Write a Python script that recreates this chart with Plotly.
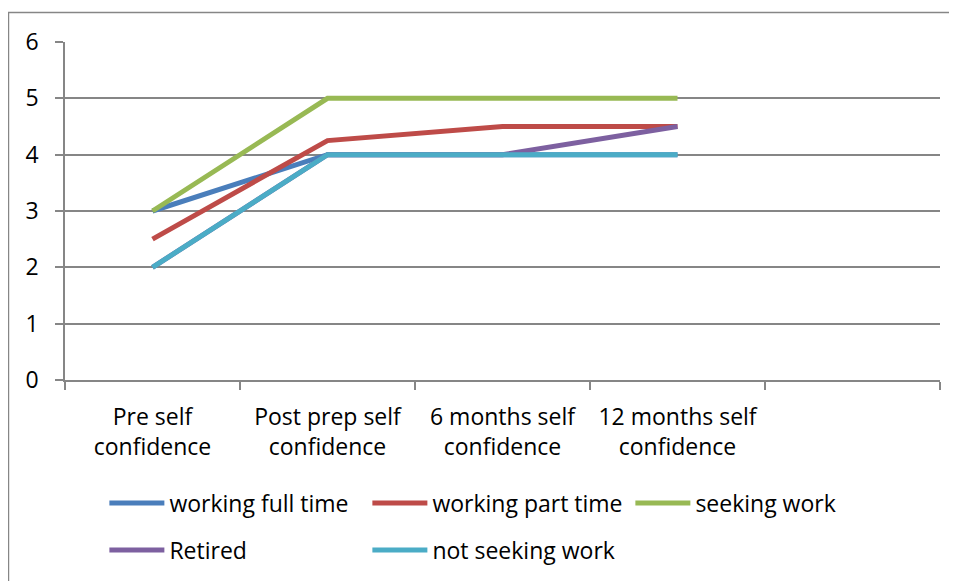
import plotly.graph_objects as go

# categories (5th slot is empty in the original chart)
categories = ["Pre self<br>confidence", "Post prep self<br>confidence",
              "6 months self<br>confidence", "12 months self<br>confidence", " "]

full_time = [3, 4, 4, 4]
part_time = [2.5, 4.25, 4.5, 4.5]
seeking = [3, 5, 5, 5]
retired = [2, 4, 4, 4.5]
not_seeking = [2, 4, 4, 4]

series = [
    ("working full time", full_time, "#4A7EBB", "legend"),
    ("working part time", part_time, "#BE4B48", "legend"),
    ("seeking work", seeking, "#98B954", "legend"),
    ("Retired", retired, "#7D60A0", "legend2"),
    ("not seeking work", not_seeking, "#4BACC6", "legend2"),
]

FONT = "Open Sans"
GRID = "#868686"

fig = go.Figure()
for name, vals, color, leg in series:
    fig.add_trace(go.Scatter(
        x=categories[:len(vals)], y=vals, name=name, mode="lines",
        line=dict(color=color, width=5), legend=leg
    ))

legend_style = dict(
    orientation="h", xanchor="left", yanchor="middle",
    font=dict(family=FONT, size=23, color="black"),
    itemwidth=55, entrywidth=193, entrywidthmode="pixels",
    bgcolor="rgba(0,0,0,0)", tracegroupgap=0
)

fig.update_layout(
    width=957, height=581,
    margin=dict(l=57, r=25, t=34, b=209),
    paper_bgcolor="white", plot_bgcolor="white",
    font=dict(family=FONT, size=23, color="black"),
    showlegend=True,
    legend=dict(x=0.045, y=-0.364, **legend_style),
    legend2=dict(x=0.045, y=-0.503, **legend_style),
    xaxis=dict(
        type="category", categoryorder="array", categoryarray=categories,
        range=[-0.5, 4.5], tickson="boundaries", ticks="outside", ticklen=8,
        tickcolor=GRID, tickwidth=1.5, showgrid=False, zeroline=False,
        showline=True, linecolor=GRID, linewidth=1.5, ticklabelstandoff=16,
        tickfont=dict(family=FONT, size=23, color="black"),
    ),
    yaxis=dict(
        range=[0, 6], dtick=1, tick0=0, ticks="outside", ticklen=8,
        tickcolor=GRID, tickwidth=1.5, showgrid=True, gridcolor=GRID,
        gridwidth=1.5, zeroline=False, showline=True, linecolor=GRID,
        linewidth=1.5, ticklabelstandoff=12,
        tickfont=dict(family=FONT, size=23, color="black"),
    ),
    shapes=[dict(type="rect", xref="paper", yref="paper",
                 x0=-0.0646, x1=1.2, y0=-0.8, y1=1.0873,
                 line=dict(color=GRID, width=1.5), layer="below")],
)

fig.write_html("out.html")
